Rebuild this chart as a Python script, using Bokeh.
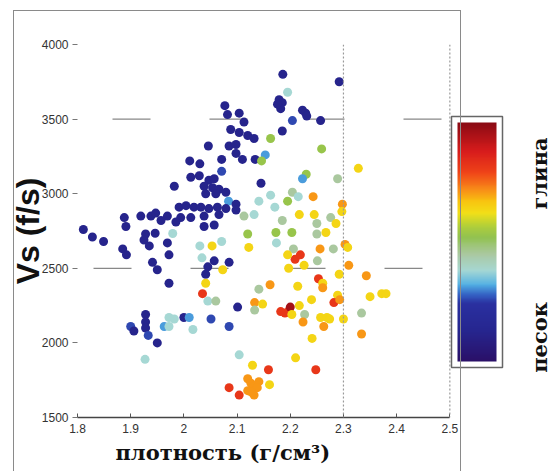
import numpy as np
from bokeh.plotting import figure
from bokeh.models import (ColumnDataSource, LinearColorMapper, ColorBar, Label, Span,
                          FixedTicker, Range1d, Title, InlineStyleSheet)
from bokeh.transform import linear_cmap
from bokeh.embed import file_html
from bokeh.resources import INLINE

# clay-fraction colour codes
N, B, C, T, G, Gr, Y, O, R, D = 0.12, 0.26, 0.31, 0.38, 0.45, 0.53, 0.64, 0.71, 0.82, 0.96

density = [
    1.811, 1.828, 1.849, 1.888, 1.891, 1.885, 1.919, 1.928, 1.925, 1.938, 1.947, 1.935, 1.946,
    1.969, 1.982, 1.979, 1.991, 1.994, 1.969, 1.957, 1.985,
    2.186, 2.195, 2.179, 2.185, 2.182, 2.176, 2.077, 2.082, 2.104, 2.088, 2.113, 2.104, 2.120,
    2.132, 2.046, 2.085, 2.098, 2.098, 2.110, 2.071, 2.134, 2.153, 2.146, 2.163, 2.185, 2.204,
    2.011, 2.030, 2.071, 2.013, 2.029, 2.047, 2.057, 2.145, 2.038, 2.054, 2.066, 2.079, 2.041,
    2.060, 2.084, 2.098, 2.004, 2.019, 2.032, 2.047, 2.063, 2.079, 2.098, 2.013, 2.038, 2.066,
    2.057, 2.038, 2.113, 2.132, 2.141, 2.163, 2.171, 2.195, 2.204, 2.185, 2.203, 2.120, 2.173,
    2.174, 2.122, 2.053, 2.071, 2.030, 2.217,
    2.292, 2.223, 2.229, 2.231, 2.257, 2.259, 2.328, 2.230, 2.223, 2.289, 2.215, 2.243, 2.298,
    2.297, 2.245, 2.276, 2.286, 2.250, 2.250, 2.267, 2.281, 2.256, 2.303, 2.308, 2.206,
    1.892, 1.972, 1.941, 1.950, 1.972, 2.057, 2.085, 2.045, 2.041, 2.073, 2.041, 2.035, 2.045,
    2.060, 2.101, 2.133, 2.148, 2.133, 1.928, 1.928, 1.928, 1.900, 1.906, 1.933, 1.950, 1.972,
    1.982, 1.963, 1.972, 2.000, 2.010, 2.017, 2.051, 2.085, 1.927, 2.104, 2.129, 2.120, 2.126,
    2.132, 2.120, 2.132, 2.085, 2.104, 2.141, 2.138, 2.127, 2.159, 2.161, 2.034,
    2.141, 2.162, 2.182, 2.190, 2.198, 2.200, 2.203, 2.210, 2.209, 2.219, 2.195, 2.197, 2.226,
    2.251, 2.310, 2.292, 2.343, 2.253, 2.261, 2.261, 2.214, 2.289, 2.282, 2.293, 2.240, 2.350,
    2.372, 2.380, 2.217, 2.227, 2.224, 2.257, 2.269, 2.274, 2.263, 2.300, 2.334, 2.334, 2.241,
    2.248,
]

vs = [
    2760, 2710, 2680, 2840, 2780, 2630, 2850, 2730, 2690, 2850, 2870, 2650, 2735,
    2850, 3050, 2733, 2910, 2840, 2670, 2820, 2810,
    3800, 3680, 3630, 3610, 3570, 3600, 3590, 3530, 3540, 3430, 3480, 3410, 3390,
    3370, 3320, 3320, 3330, 3270, 3230, 3230, 3230, 3260, 3220, 3370, 3420, 3490,
    3220, 3200, 3150, 3110, 3120, 3090, 3100, 3070, 3050, 3040, 3030, 3010, 3000,
    3000, 2950, 2930, 2920, 2910, 2910, 2900, 2910, 2900, 2890, 2840, 2850, 2860,
    2790, 2780, 2850, 2860, 2950, 2990, 2910, 2950, 3010, 2820, 2740, 2730, 2740,
    2670, 2640, 2650, 2680, 2650, 2860,
    3750, 3560, 3540, 3520, 3490, 3300, 3170, 3130, 3100, 3100, 2980, 2980, 2930,
    2880, 2860, 2840, 2800, 2800, 2730, 2740, 2630, 2630, 2660, 2640, 2630,
    2590, 2590, 2540, 2490, 2400, 2550, 2540, 2510, 2460, 2490, 2400, 2330, 2280,
    2280, 2240, 2270, 2260, 2220, 2190, 2140, 2100, 2110, 2080, 2050, 2000, 2170,
    2160, 2110, 2110, 2170, 2170, 2090, 2160, 2110, 1890, 1920, 1850, 1760, 1730,
    1710, 1680, 1650, 1700, 1650, 1740, 1700, 1670, 1820, 1720, 2570,
    2360, 2390, 2210, 2200, 2220, 2240, 2190, 1900, 2560, 2590, 2590, 2500, 2520,
    2550, 2520, 2460, 2450, 2430, 2400, 2370, 2380, 2320, 2270, 2290, 2290, 2310,
    2330, 2330, 2250, 2190, 2140, 2170, 2170, 2160, 2110, 2160, 2200, 2060, 2030,
    1820,
]

clay = [
    N, N, N, N, N, N, N, N, N, N, N, N, N,
    N, N, T, N, N, N, N, N,
    N, T, N, N, N, N, N, N, N, N, N, N, N,
    N, N, N, N, N, N, N, N, C, Gr, Gr, N, B,
    N, N, B, N, N, N, N, N, N, N, N, N, N,
    N, C, N, N, N, N, N, N, N, N, N, N, N,
    N, N, G, T, T, T, T, Gr, G, G, Gr, Gr, Gr,
    T, Y, Y, T, T, Y,
    N, N, N, N, N, Gr, Y, Gr, C, G, T, O, O,
    Y, Y, G, Y, G, G, Y, G, O, O, Y, G,
    N, N, N, N, N, N, N, N, N, Y, Y, R, T,
    G, N, O, Y, G, N, N, N, B, N, B, N, T,
    T, C, T, N, C, T, B, B, T, T, Y, O, O,
    O, O, O, R, R, O, O, O, R, Y, T,
    G, O, R, R, R, D, Y, Y, R, R, Y, Y, Y,
    G, O, Y, O, R, Y, O, Y, Y, R, O, Y, Y,
    Y, Y, Y, G, O, Y, Y, Y, O, Y, G, O, Y,
    R,
]

x_ticks = [1.8, 1.9, 2.0, 2.1, 2.2, 2.3, 2.4, 2.5]
x_tick_labels = ["1.8", "1.9", "2", "2.1", "2.2", "2.3", "2.4", "2.5"]
y_ticks = [1500, 2000, 2500, 3000, 3500, 4000]
grid_levels = [3500, 2500]
grid_offsets = [62, 81]
dotted_x = [2.3, 2.5]

# jet-like colour scale of the bar (position, colour)
stops = [(0.00, "#2a1068"), (0.13, "#262690"), (0.24, "#2a30a0"), (0.28, "#3462c4"),
         (0.32, "#52b0e4"), (0.38, "#a6d8d4"), (0.45, "#aac8a0"), (0.52, "#92c250"),
         (0.57, "#b4d038"), (0.62, "#f2e018"), (0.67, "#f8c410"), (0.72, "#f88c18"),
         (0.79, "#f04418"), (0.88, "#d81c1c"), (1.00, "#8a0a14")]


def build_palette(stops, n=256):
    pos = np.array([s[0] for s in stops])
    rgb = np.array([[int(s[1][i:i + 2], 16) for i in (1, 3, 5)] for s in stops], float)
    t = np.linspace(0, 1, n)
    cols = np.stack([np.interp(t, pos, rgb[:, k]) for k in range(3)], axis=1)
    return ["#%02x%02x%02x" % tuple(int(round(v)) for v in c) for c in cols]


palette = build_palette(stops)

src = ColumnDataSource(dict(x=density, y=vs, clay=clay))

p = figure(width=552, height=471, output_backend="svg", toolbar_location=None,
           x_range=Range1d(1.8, 2.693), y_range=Range1d(1500, 4000),
           min_border_left=77, min_border_right=0, min_border_top=44, min_border_bottom=54)
p.outline_line_color = None
p.grid.visible = False
p.background_fill_color = "white"
p.border_fill_color = "white"

# faint frame of the scanned page (decoration only)
p.stylesheets = [InlineStyleSheet(css=(
    ":host::after{content:'';position:absolute;left:13px;top:10px;width:446px;"
    "height:470px;border:1.5px solid #8a8a8a;border-bottom:none;"
    "pointer-events:none;z-index:5;}"))]

# x axis
xa = p.xaxis[0]
xa.ticker = FixedTicker(ticks=x_ticks)
xa.major_label_overrides = {t: s for t, s in zip(x_ticks, x_tick_labels)}
xa.bounds = (x_ticks[0], x_ticks[-1])
xa.axis_line_color = "#444444"
xa.axis_line_width = 1.5
xa.major_tick_in = 4
xa.major_tick_out = 0
xa.major_tick_line_color = "#555555"
xa.minor_tick_line_color = None
xa.major_label_standoff = 6
xa.major_label_text_font = "Liberation Sans"
xa.major_label_text_font_size = "12px"
xa.major_label_text_color = "#333333"

# y axis
ya = p.yaxis[0]
ya.ticker = FixedTicker(ticks=y_ticks)
ya.axis_line_color = None
ya.major_tick_in = 0
ya.major_tick_out = 5
ya.major_tick_line_color = "#777777"
ya.minor_tick_line_color = None
ya.major_label_standoff = 4
ya.major_label_text_font = "Liberation Sans"
ya.major_label_text_font_size = "12px"
ya.major_label_text_color = "#333333"
ya.axis_label = "Vs (f/s)"
ya.axis_label_standoff = -7
ya.axis_label_text_font = "Liberation Sans"
ya.axis_label_text_font_style = "bold"
ya.axis_label_text_font_size = "32px"
ya.axis_label_text_color = "#111111"

p.add_layout(Title(text="плотность (г/см³)", align="left", offset=38, standoff=4,
                   text_font="DejaVu Serif", text_font_style="bold",
                   text_font_size="21px", text_color="#111111"), "below")

# dashed grid pieces
for lvl, off in zip(grid_levels, grid_offsets):
    p.segment(x0=[x_ticks[0]], x1=[x_ticks[-1]], y0=[lvl], y1=[lvl],
              line_color="#888888", line_width=1.2, line_dash="38 59", line_dash_offset=off)

for xv in dotted_x:
    p.add_layout(Span(location=xv, dimension="height", line_color="#9a9a9a",
                      line_width=1.2, line_dash="2 2"))

p.scatter(x="x", y="y", source=src, size=9, marker="circle",
          fill_color=linear_cmap("clay", palette, 0, 1), line_color=None)

mapper = LinearColorMapper(palette=palette, low=0, high=1)
cb = ColorBar(color_mapper=mapper, location=(374, 50), width=39, height=239,
              padding=6, margin=0, ticker=FixedTicker(ticks=[]),
              major_label_text_font_size="0px", major_tick_line_color=None,
              bar_line_color=None, border_line_color="#666666", border_line_width=1.5,
              background_fill_color="white", orientation="vertical")
p.add_layout(cb)

p.add_layout(Label(x=462, y=244, x_units="screen", y_units="screen", text="глина",
                   angle=90, angle_units="deg", text_align="center", text_baseline="middle",
                   text_font="DejaVu Serif", text_font_style="bold",
                   text_font_size="21px", text_color="#111111"))
p.add_layout(Label(x=462, y=80, x_units="screen", y_units="screen", text="песок",
                   angle=90, angle_units="deg", text_align="center", text_baseline="middle",
                   text_font="DejaVu Serif", text_font_style="bold",
                   text_font_size="21px", text_color="#111111"))

open("out.html", "w").write(file_html(p, INLINE))
